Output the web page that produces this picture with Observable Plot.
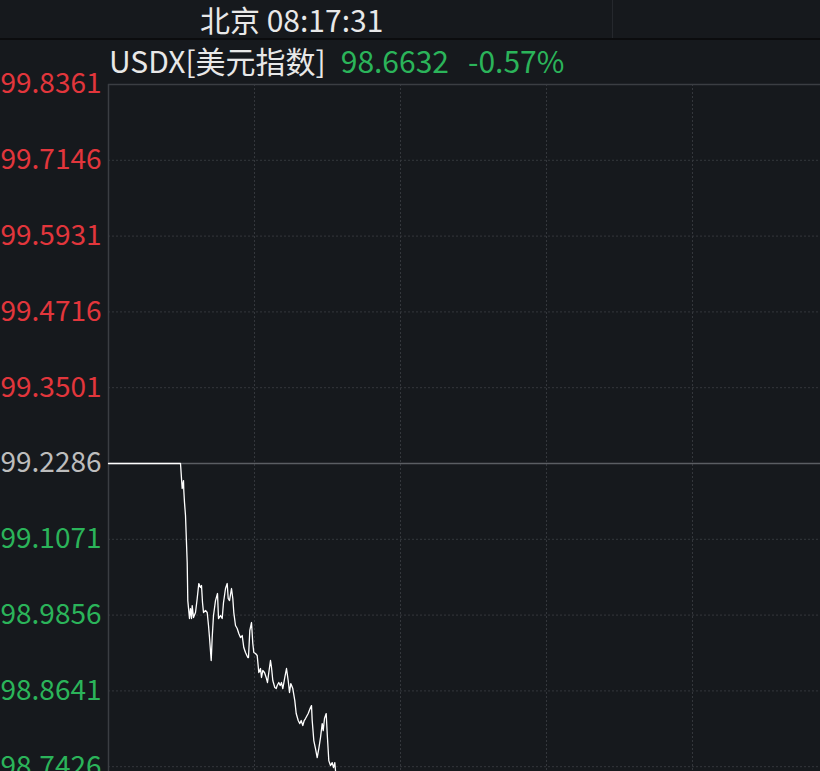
<!DOCTYPE html>
<html>
<head>
<meta charset="utf-8">
<script src="https://cdn.jsdelivr.net/npm/d3@7"></script>
<script src="https://cdn.jsdelivr.net/npm/@observablehq/plot@0.6"></script>
<style>
  html, body { margin: 0; padding: 0; background: #16191d; overflow: hidden; }
  #wrap { position: relative; width: 820px; height: 771px; overflow: hidden; font-family: "Noto Sans CJK SC", "Noto Sans", sans-serif; }
  #chart { position: absolute; left: 0; top: 0; }
  #header { position: absolute; left: 0; top: 0; width: 820px; height: 38px; border-bottom: 2px solid #0b0c0e; background: #16191d; }
  #header .title { position: absolute; left: 200px; top: 1px; font-size: 30px; line-height: 36px; color: #e8e8e8; white-space: nowrap; }
  #header .divider { position: absolute; left: 612px; top: 0; width: 1px; height: 38px; background: #25282d; }
  #info { position: absolute; left: 109px; top: 40px; font-size: 30px; line-height: 40px; white-space: nowrap; }
  #info .name { color: #e8e8e8; }
  #info .price { color: #2bb45a; margin-left: 15px; }
  #info .chg { color: #2bb45a; margin-left: 19px; }
</style>
</head>
<body>
<div id="wrap">
  <div id="chart"></div>
  <div id="header"><div class="title" id="clock"></div><div class="divider"></div></div>
  <div id="info"><span class="name" id="nm"></span><span class="price" id="px"></span><span class="chg" id="chg"></span></div>
</div>
<script>
const symbolName = "USDX[美元指数]";
const prevClose = 99.2286;
const lastPrice = 98.6632;
const changePct = "-0.57%";
const clockText = "北京 08:17:31";

const yTicks = [99.8361, 99.7146, 99.5931, 99.4716, 99.3501, 99.2286, 99.1071, 98.9856, 98.8641, 98.7426, 98.6211];
const xTicks = [146, 292, 438, 584];

const times = [0, 72, 73, 73.7, 75, 75.3, 76, 77, 78.7, 79.3, 81, 82, 83, 83.7, 85, 87, 88.7, 90.3, 92, 93, 94, 95, 97, 98.7, 100, 101, 102.7, 103.7, 105, 107, 109, 110, 112, 113.7, 115, 117, 118.7, 119.7, 121, 123, 124.3, 125.3, 127, 128.7, 130.3, 132, 133.7, 135.3, 137, 139.3, 140, 141.3, 143, 144.3, 145.3, 147, 148.7, 150.3, 152, 153, 154.3, 156, 157.7, 159, 160.3, 162, 163, 164.3, 166.3, 167.7, 168.7, 170.3, 171.7, 173, 174.3, 176.3, 178, 179.7, 181, 182.3, 184.3, 186.3, 187.7, 189.7, 191.3, 192.7, 194.3, 195.7, 197, 199.7, 202, 203, 203.7, 205.3, 207, 208.7, 210.3, 212, 213.7, 214.7, 216, 217.7, 218.7, 220.3, 222, 223.7, 225, 226.3, 227, 232];
const prices = [99.2286, 99.2286, 99.2046, 99.1885, 99.2013, 99.1853, 99.1661, 99.1452, 99.0699, 99.0089, 98.9801, 98.9961, 98.9801, 99.0009, 98.9817, 98.9897, 99.0122, 99.0362, 99.0298, 99.0330, 99.0057, 98.9897, 98.9929, 98.9897, 98.9689, 98.9496, 98.9128, 98.9496, 98.9849, 99.0089, 99.0202, 98.9801, 98.9849, 98.9801, 99.0057, 99.0282, 99.0362, 99.0122, 99.0089, 99.0282, 99.0122, 98.9897, 98.9689, 98.9641, 98.9560, 98.9496, 98.9528, 98.9336, 98.9256, 98.9176, 98.9176, 98.9609, 98.9737, 98.9400, 98.9256, 98.9240, 98.9208, 98.8936, 98.9000, 98.8856, 98.8968, 98.8936, 98.8856, 98.8775, 98.8936, 98.9128, 98.9016, 98.8807, 98.8695, 98.8679, 98.8727, 98.8775, 98.8727, 98.8775, 98.8679, 98.8856, 98.9000, 98.8807, 98.8615, 98.8759, 98.8679, 98.8486, 98.8278, 98.8166, 98.8117, 98.8166, 98.8085, 98.8166, 98.8198, 98.8278, 98.8374, 98.8406, 98.8166, 98.7845, 98.7717, 98.7572, 98.7717, 98.7893, 98.8117, 98.8005, 98.8198, 98.8278, 98.7957, 98.7524, 98.7444, 98.7492, 98.7412, 98.7492, 98.7364, 98.6632];

document.getElementById("clock").textContent = clockText;
document.getElementById("nm").textContent = symbolName;
document.getElementById("px").textContent = lastPrice.toFixed(4);
document.getElementById("chg").textContent = changePct;

const series = times.map((t, i) => ({t, v: prices[i]}));

const labelColor = d => Math.abs(d - prevClose) < 1e-6 ? "#bdbdbd" : (d > prevClose ? "#e2363c" : "#2bb45a");

const chart = Plot.plot({
  width: 820,
  height: 852,
  marginLeft: 108,
  marginRight: 0,
  marginTop: 84,
  marginBottom: 10,
  style: { background: "transparent", fontFamily: "'Noto Sans CJK SC', 'Noto Sans', sans-serif", overflow: "visible" },
  x: { domain: [0, 712], axis: null },
  y: { domain: [98.6211, 99.8361], axis: null },
  marks: [
    Plot.gridY(yTicks.filter(d => d !== prevClose && d !== 99.8361), { stroke: "#34373c", strokeOpacity: 1, strokeDasharray: "2,2" }),
    Plot.gridX(xTicks, { stroke: "#34373c", strokeOpacity: 1, strokeDasharray: "2,2" }),
    Plot.ruleY([99.8361], { stroke: "#3b3e43", strokeWidth: 1.5 }),
    Plot.ruleX([0], { stroke: "#3b3e43", strokeWidth: 1.5 }),
    Plot.ruleY([prevClose], { stroke: "#5b5e63", strokeWidth: 1.5 }),
    Plot.line(series, { x: "t", y: "v", stroke: "#ffffff", strokeWidth: 1.3 }),
    Plot.text(yTicks, {
      y: d => d,
      frameAnchor: "left",
      dx: -108,
      textAnchor: "start",
      lineAnchor: "middle",
      text: d => d.toFixed(4),
      fill: labelColor,
      fontSize: 28
    })
  ]
});
document.getElementById("chart").appendChild(chart);
</script>
</body>
</html>
